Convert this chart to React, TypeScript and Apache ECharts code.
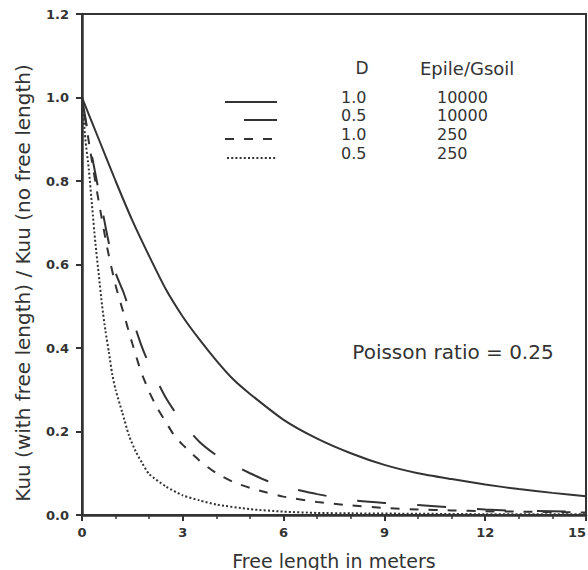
import React, { useEffect, useRef } from "react";
import * as echarts from "echarts";

// Kuu (with free length) / Kuu (no free length) vs free length (m)
const curveD10E10000: [number, number][] = [
  [0, 1.0], [0.5, 0.9], [1, 0.8], [1.5, 0.705], [2, 0.62], [2.5, 0.54], [3, 0.475],
  [3.5, 0.42], [4, 0.37], [4.5, 0.325], [5, 0.29], [6, 0.228], [7, 0.183], [8, 0.148],
  [9, 0.12], [10, 0.1], [11, 0.086], [12, 0.073], [13, 0.062], [14, 0.053], [15, 0.045],
];
const curveD05E10000: [number, number][] = [
  [0, 1.0], [0.25, 0.88], [0.5, 0.775], [0.75, 0.67], [1, 0.58], [1.25, 0.53], [1.5, 0.47],
  [1.75, 0.41], [2, 0.36], [2.5, 0.28], [3, 0.22], [3.5, 0.175], [4, 0.143], [4.5, 0.12],
  [5, 0.1], [5.5, 0.082], [6, 0.068], [7, 0.05], [8, 0.036], [9, 0.029], [10, 0.024],
  [11, 0.018], [12, 0.013], [13, 0.01], [14, 0.009], [15, 0.008],
];
const curveD10E250: [number, number][] = [
  [0, 1.0], [0.25, 0.87], [0.5, 0.75], [0.75, 0.64], [1, 0.55], [1.25, 0.48], [1.5, 0.41],
  [1.75, 0.345], [2, 0.295], [2.25, 0.255], [2.5, 0.222], [2.75, 0.19], [3, 0.168],
  [3.5, 0.13], [4, 0.1], [4.5, 0.079], [5, 0.065], [5.5, 0.054], [6, 0.044], [7, 0.031],
  [8, 0.023], [9, 0.017], [10, 0.013], [11, 0.011], [12, 0.009], [13, 0.008], [14, 0.007],
  [15, 0.006],
];
const curveD05E250: [number, number][] = [
  [0, 1.0], [0.1, 0.9], [0.2, 0.83], [0.3, 0.74], [0.4, 0.65], [0.5, 0.575], [0.6, 0.5],
  [0.7, 0.44], [0.8, 0.39], [0.9, 0.337], [1.0, 0.3], [1.2, 0.245], [1.4, 0.19],
  [1.6, 0.152], [1.8, 0.123], [2.0, 0.098], [2.5, 0.068], [3, 0.047], [3.5, 0.035],
  [4, 0.025], [5, 0.014], [6, 0.008], [7, 0.005], [8, 0.004], [10, 0.003], [12, 0.002],
  [15, 0.002],
];

const legendD = ["1.0", "0.5", "1.0", "0.5"];
const legendE = ["10000", "10000", "250", "250"];
const xTitle = "Free length in meters";
const yTitle = "Kuu (with free length) / Kuu (no free length)";
const note = "Poisson ratio = 0.25";

const INK = "#333";
const FONT = "DejaVu Sans";

export default function App() {
  const ref = useRef<HTMLDivElement>(null);
  useEffect(() => {
    if (!ref.current) return;
    const chart = echarts.init(ref.current, undefined, { renderer: "svg" });
    const lineBase = { type: "line", showSymbol: false, smooth: 0.2, silent: true };
    const styles: any[] = [
      { color: INK, width: 2, type: "solid" },
      { color: INK, width: 2, type: [29, 31] },
      { color: INK, width: 2, type: [9, 10] },
      { color: INK, width: 2, type: [2, 2.2] },
    ];
    const datasets = [curveD10E10000, curveD05E10000, curveD10E250, curveD05E250];
    const rowY = [97, 115, 134, 153];
    const sampleY = rowY.map((y) => y + 5);
    const graphics: any[] = [
      { type: "text", x: 362, y: 68, style: { text: "D", font: `17px ${FONT}`, fill: INK, textAlign: "center", textVerticalAlign: "middle" } },
      { type: "text", x: 420, y: 68, style: { text: "Epile/Gsoil", font: `18px ${FONT}`, fill: INK, textAlign: "left", textVerticalAlign: "middle" } },
      { type: "text", x: 453, y: 352, style: { text: note, font: `20px ${FONT}`, fill: INK, textAlign: "center", textVerticalAlign: "middle" } },
      { type: "text", x: 23, y: 283, rotation: Math.PI / 2, style: { text: yTitle, font: `20px ${FONT}`, fill: INK, textAlign: "center", textVerticalAlign: "middle" } },
    ];
    legendD.forEach((d, i) => {
      graphics.push({ type: "text", x: 341, y: rowY[i], style: { text: d, font: `16px ${FONT}`, fill: INK, textAlign: "left", textVerticalAlign: "middle" } });
      graphics.push({ type: "text", x: 437, y: rowY[i], style: { text: legendE[i], font: `16px ${FONT}`, fill: INK, textAlign: "left", textVerticalAlign: "middle" } });
    });
    const sampleX0 = [225, 244, 225, 227];
    const sampleDash: any[] = [null, null, [9, 10], [2, 2.2]];
    sampleY.forEach((y, i) => {
      graphics.push({
        type: "line",
        shape: { x1: sampleX0[i], y1: y, x2: 277, y2: y },
        style: { stroke: INK, lineWidth: 2, lineDash: sampleDash[i] || undefined },
      });
    });

    chart.setOption({
      animation: false,
      backgroundColor: "#fff",
      grid: { left: 82, right: 2, top: 14, bottom: 55, show: true, borderColor: INK, borderWidth: 2, outerBoundsMode: "none", containLabel: false },
      xAxis: {
        type: "value",
        min: 0,
        max: 15,
        interval: 3,
        name: xTitle,
        nameLocation: "middle",
        nameGap: 36,
        nameTextStyle: { fontFamily: FONT, fontSize: 19, color: INK },
        axisLine: { lineStyle: { color: INK, width: 2.5 } },
        axisTick: { length: 6, lineStyle: { color: INK, width: 2 } },
        minorTick: { show: true, splitNumber: 3, length: 4, lineStyle: { color: INK, width: 1.5 } },
        axisLabel: { fontFamily: FONT, fontSize: 13, fontWeight: "bold", color: INK, margin: 11, hideOverlap: false, alignMaxLabel: "right" },
        splitLine: { show: false },
      },
      yAxis: {
        type: "value",
        min: 0,
        max: 1.2,
        interval: 0.2,
        axisLine: { show: true, lineStyle: { color: INK, width: 2.5 } },
        axisTick: { show: true, length: 6, lineStyle: { color: INK, width: 2 } },
        axisLabel: { fontFamily: FONT, fontSize: 13, fontWeight: "bold", color: INK, margin: 13, formatter: (v: number) => v.toFixed(1) },
        splitLine: { show: false },
      },
      graphic: graphics,
      series: datasets.map((data, i) => ({ ...lineBase, name: `D=${legendD[i]}, Epile/Gsoil=${legendE[i]}`, data, lineStyle: styles[i] })),
    });
    return () => chart.dispose();
  }, []);
  return <div ref={ref} style={{ position: "fixed", left: 0, top: 0, width: 588, height: 570 }} />;
}
